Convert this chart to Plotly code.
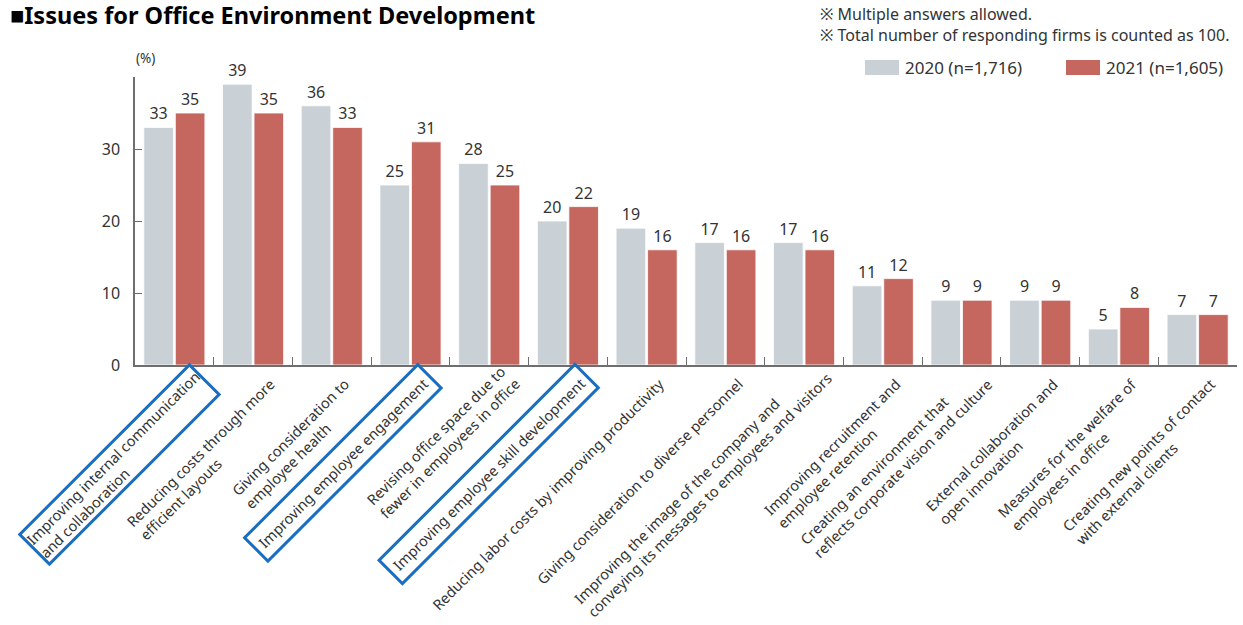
import plotly.graph_objects as go

# ---- data -------------------------------------------------------------
categories = [
    "Improving internal communication<br>and collaboration",
    "Reducing costs through more<br>efficient layouts",
    "Giving consideration to<br>employee health",
    "Improving employee engagement",
    "Revising office space due to<br>fewer in employees in office",
    "Improving employee skill development",
    "Reducing labor costs by improving productivity",
    "Giving consideration to diverse personnel",
    "Improving the image of the company and<br>conveying its messages to employees and visitors",
    "Improving recruitment and<br>employee retention",
    "Creating an environment that<br>reflects corporate vision and culture",
    "External collaboration and<br>open innovation",
    "Measures for the welfare of<br>employees in office",
    "Creating new points of contact<br>with external clients",
]
values_2020 = [33, 39, 36, 25, 28, 20, 19, 17, 17, 11, 9, 9, 5, 7]
values_2021 = [35, 35, 33, 31, 25, 22, 16, 16, 16, 12, 9, 9, 8, 7]
series_names = ["2020 (n=1,716)", "2021 (n=1,605)"]
highlighted = [0, 3, 5]          # categories framed in blue
y_ticks = [0, 10, 20, 30, 40]
y_tick_text = ["0", "10", "20", "30", ""]

# ---- style ------------------------------------------------------------
FONT = "Noto Sans"
TEXT = "#333333"
AXIS = "#6e6e6e"
COLORS = ["#c9d0d6", "#c5675f"]
BLUE = "#1a6ec0"
W, H = 1243, 625
M_L, M_R, M_T, M_B = 135, 6, 77, 260
LABEL_SIZE = 14.5
LINE_H = 1.3 * LABEL_SIZE
# small per-label pixel nudges (dx, dy) of the rotated label blocks
label_nudge = {0: (8, -7), 1: (4, 0), 8: (-2, -6)}

fig = go.Figure()
for name, vals, col in zip(series_names, [values_2020, values_2021], COLORS):
    fig.add_trace(go.Bar(
        x=categories, y=vals, name=name,
        marker=dict(color=col, line=dict(color="white", width=0.8)),
        text=vals, textposition="outside", texttemplate="%{y}",
        textfont=dict(family=FONT, size=16, color=TEXT),
        cliponaxis=False, constraintext="none", showlegend=False,
    ))

# ---- rotated category labels --------------------------------------
# The top-right corner of each rotated text block sits just right of the
# category centre, a few pixels under the axis.  Blocks whose second line is
# the longer one are lifted so that their topmost glyph stays level.
C45 = 0.7071
for i, cat in enumerate(categories):
    lines = cat.split("<br>")
    n_lines = len(lines)
    boxed = i in highlighted
    pad = (0 if n_lines > 1 else 5) if boxed else 1
    bw = 3 if boxed else 0
    edge = pad + bw
    h = LINE_H * n_lines + 2 * edge
    tx, ty = 8, 9
    if n_lines > 1 and len(lines[1]) >= len(lines[0]):
        ty -= C45 * LINE_H
    ndx, ndy = label_nudge.get(i, (0, 0))
    tx += ndx
    ty += ndy
    cx = tx + C45 * h
    cy = ty - 1.414 * edge
    fig.add_annotation(
        x=cat, xref="x", y=0, yref="paper",
        text=cat, textangle=-45, align="left",
        xanchor="right", yanchor="top",
        xshift=cx, yshift=-cy,
        showarrow=False,
        font=dict(family=FONT, size=LABEL_SIZE, color=TEXT),
        borderpad=pad, borderwidth=bw,
        bordercolor=BLUE if boxed else "rgba(0,0,0,0)",
    )

# ---- title, notes, unit -------------------------------------------
def px(xp):
    return (xp - M_L) / (W - M_L - M_R)

def py(yp):
    return (H - M_B - yp) / (H - M_T - M_B)

fig.add_annotation(x=px(8), y=py(15), xref="paper", yref="paper",
                   xanchor="left", yanchor="middle", showarrow=False,
                   text="<b>■Issues for Office Environment Development</b>",
                   font=dict(family=FONT, size=23.5, color="#000000"))
fig.add_annotation(x=px(818), y=py(25), xref="paper", yref="paper",
                   xanchor="left", yanchor="middle", showarrow=False, align="left",
                   text="※ Multiple answers allowed.<br>"
                        "※ Total number of responding firms is counted as 100.",
                   font=dict(family=FONT, size=16, color=TEXT))
fig.add_annotation(x=px(134), y=py(58), xref="paper", yref="paper",
                   xanchor="left", yanchor="middle", showarrow=False,
                   text="(%)", font=dict(family=FONT, size=13.5, color=TEXT))

# ---- legend ---------------------------------------------------------
legend_x = [865, 1066]
for name, col, lx in zip(series_names, COLORS, legend_x):
    fig.add_shape(type="rect", xref="paper", yref="paper",
                  x0=px(lx), x1=px(lx + 34), y0=py(60), y1=py(75),
                  fillcolor=col, line=dict(width=0))
    fig.add_annotation(x=px(lx + 38), y=py(67.5), xref="paper", yref="paper",
                       xanchor="left", yanchor="middle", showarrow=False,
                       text=name, font=dict(family=FONT, size=17, color=TEXT))

# ---- layout ---------------------------------------------------------
fig.update_layout(
    width=W, height=H,
    margin=dict(l=M_L, r=M_R, t=M_T, b=M_B, pad=0),
    paper_bgcolor="white", plot_bgcolor="white",
    barmode="group", bargap=0.2, bargroupgap=0.06,
    font=dict(family=FONT, color=TEXT),
)
fig.update_xaxes(
    type="category", range=[-0.5, len(categories) - 0.5], autorange=False,
    showticklabels=False,
    showline=True, linecolor=AXIS, linewidth=1.5,
    ticks="inside", tickson="boundaries", ticklen=8,
    tickcolor=AXIS, tickwidth=1, showgrid=False, zeroline=False,
)
fig.update_yaxes(
    range=[0, 40], autorange=False, tickvals=y_ticks, ticktext=y_tick_text,
    showline=True, linecolor=AXIS, linewidth=1.5,
    ticks="inside", ticklen=7, tickcolor=AXIS, tickwidth=1,
    ticklabelstandoff=10,
    tickfont=dict(family=FONT, size=16, color=TEXT),
    showgrid=False, zeroline=False,
)

fig.write_html("out.html")
